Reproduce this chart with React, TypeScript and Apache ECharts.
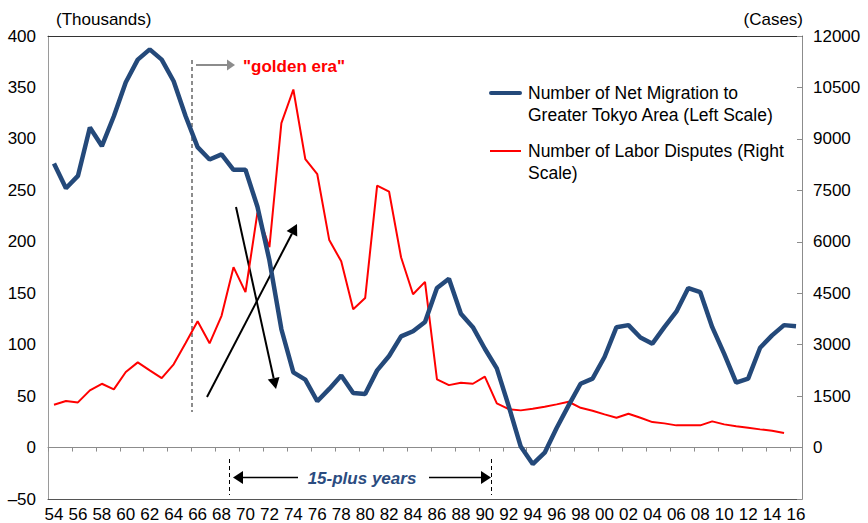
import React, { useEffect, useRef } from 'react';
import * as echarts from 'echarts';

const years = [
  '54', '55', '56', '57', '58', '59', '60', '61', '62', '63', '64', '65', '66', '67', '68', '69',
  '70', '71', '72', '73', '74', '75', '76', '77', '78', '79', '80', '81', '82', '83', '84', '85',
  '86', '87', '88', '89', '90', '91', '92', '93', '94', '95', '96', '97', '98', '99', '00', '01',
  '02', '03', '04', '05', '06', '07', '08', '09', '10', '11', '12', '13', '14', '15', '16',
];

// Net migration to Greater Tokyo Area (thousands, left scale)
const netMigration = [
  276, 252, 264, 311, 293, 322, 355, 377, 387, 377, 356, 322, 292, 280, 285, 270,
  270, 234, 182, 115, 73, 66, 45, 57, 70, 53, 52, 75, 89, 108, 113, 122,
  155, 164, 130, 117, 96, 77, 40, 1, -16, -5, 19, 41, 62, 67, 88, 117,
  119, 107, 101, 117, 132, 155, 151, 117, 91, 63, 67, 97, 109, 119, 118,
];

// Number of labor disputes (cases, right scale)
const laborDisputes = [
  1250, 1356, 1317, 1668, 1860, 1698, 2202, 2484, 2250, 2025, 2426, 3050, 3680, 3040, 3840, 5260,
  4530, 6850, 5840, 9460, 10440, 8410, 7970, 6050, 5430, 4030, 4360, 7640, 7460, 5550, 4470, 4830,
  1990, 1820, 1890, 1860, 2070, 1290, 1120, 1084, 1131, 1190, 1259, 1336, 1160, 1073, 967, 869,
  986, 869, 743, 705, 647, 647, 647, 763, 676, 618, 578, 530, 490, 423, null,
];

const leftAxisRange = [-50, 400];
const leftAxisStep = 50;
const rightAxisRange = [-1500, 12000];
const rightAxisStep = 1500;

const seriesNames = [
  'Number of Net Migration to\nGreater Tokyo Area (Left Scale)',
  'Number of Labor Disputes (Right\nScale)',
];

const FONT = '"Liberation Sans", Arial, Helvetica, sans-serif';
const BLUE = '#24497a';
const RED = '#ff0000';

function arrowHead(tipX: number, tipY: number, fromX: number, fromY: number, len: number, half: number) {
  const dx = tipX - fromX;
  const dy = tipY - fromY;
  const d = Math.sqrt(dx * dx + dy * dy);
  const ux = dx / d;
  const uy = dy / d;
  const bx = tipX - ux * len;
  const by = tipY - uy * len;
  return {
    base: [bx, by],
    points: [
      [tipX, tipY],
      [bx - uy * half, by + ux * half],
      [bx + uy * half, by - ux * half],
    ],
  };
}

function arrow(x1: number, y1: number, x2: number, y2: number, color: string, width: number, len: number, half: number) {
  const h = arrowHead(x2, y2, x1, y1, len, half);
  return [
    { type: 'line', shape: { x1, y1, x2: h.base[0], y2: h.base[1] }, style: { stroke: color, lineWidth: width } },
    { type: 'polygon', shape: { points: h.points }, style: { fill: color } },
  ];
}

export default function App() {
  const ref = useRef<HTMLDivElement>(null);

  useEffect(() => {
    if (!ref.current) return;
    const chart = echarts.init(ref.current, undefined, { renderer: 'svg' });

    const axisText = { color: '#000', fontSize: 17, fontFamily: FONT };

    const graphic: any[] = [
      { type: 'text', x: 56, y: 19, style: { text: '(Thousands)', fontSize: 17, fontFamily: FONT, fill: '#000', align: 'left', verticalAlign: 'middle' } },
      { type: 'text', x: 803, y: 19, style: { text: '(Cases)', fontSize: 17, fontFamily: FONT, fill: '#000', align: 'right', verticalAlign: 'middle' } },
      // legend
      { type: 'line', shape: { x1: 491, y1: 93, x2: 520, y2: 93 }, style: { stroke: BLUE, lineWidth: 4, lineCap: 'round' } },
      { type: 'text', x: 528, y: 82, style: { text: seriesNames[0], fontSize: 17.5, lineHeight: 22, fontFamily: FONT, fill: '#000', align: 'left', verticalAlign: 'top' } },
      { type: 'line', shape: { x1: 490, y1: 151, x2: 521, y2: 151 }, style: { stroke: RED, lineWidth: 2 } },
      { type: 'text', x: 528, y: 140, style: { text: seriesNames[1], fontSize: 17.5, lineHeight: 22, fontFamily: FONT, fill: '#000', align: 'left', verticalAlign: 'top' } },
      // golden era
      { type: 'line', shape: { x1: 192, y1: 60, x2: 192, y2: 412 }, style: { stroke: '#8c8c8c', lineWidth: 2, lineDash: [4, 3] } },
      ...arrow(196, 65, 235, 65, '#8c8c8c', 2, 8, 5.5),
      { type: 'text', x: 243, y: 66, style: { text: '"golden era"', fontSize: 17, fontWeight: 'bold', fontFamily: FONT, fill: RED, align: 'left', verticalAlign: 'middle' } },
      // black arrows
      ...arrow(207, 397, 297, 224, '#000', 2, 11, 6),
      ...arrow(236, 207, 276, 389, '#000', 2, 11, 6),
      // 15-plus years
      { type: 'line', shape: { x1: 229.5, y1: 459, x2: 229.5, y2: 495 }, style: { stroke: '#000', lineWidth: 1, lineDash: [4, 3] } },
      { type: 'line', shape: { x1: 491.5, y1: 459, x2: 491.5, y2: 495 }, style: { stroke: '#000', lineWidth: 1, lineDash: [4, 3] } },
      ...arrow(298, 477.5, 233, 477.5, '#000', 1.5, 10, 6.5),
      ...arrow(429, 477.5, 491, 477.5, '#000', 1.5, 10, 6.5),
      { type: 'text', x: 362, y: 478, style: { text: '15-plus years', fontSize: 17, fontWeight: 'bold', fontStyle: 'italic', fontFamily: FONT, fill: '#2b4c80', align: 'center', verticalAlign: 'middle' } },
    ];

    chart.setOption({
      animation: false,
      backgroundColor: '#fff',
      grid: { left: 48, right: 66, top: 36, bottom: 24, containLabel: false, outerBoundsMode: 'none' },
      xAxis: [
        {
          type: 'category', data: years, position: 'bottom', boundaryGap: true,
          axisLine: { onZero: false, lineStyle: { color: '#555', width: 1 } },
          axisTick: { show: false },
          axisLabel: { ...axisText, interval: 1, margin: 7 },
          splitLine: { show: false },
        },
        {
          type: 'category', data: years, position: 'bottom', boundaryGap: true,
          axisLine: { onZero: true, onZeroAxisIndex: 0, lineStyle: { color: '#8c8c8c', width: 1 } },
          axisTick: { show: true, interval: 1, length: 4, lineStyle: { color: '#8c8c8c' } },
          axisLabel: { show: false },
          splitLine: { show: false },
        },
        {
          type: 'category', data: years, position: 'top', boundaryGap: true,
          axisLine: { onZero: false, lineStyle: { color: '#333', width: 1 } },
          axisTick: { show: false },
          axisLabel: { show: false },
          splitLine: { show: false },
        },
      ],
      yAxis: [
        {
          type: 'value', position: 'left', min: leftAxisRange[0], max: leftAxisRange[1], interval: leftAxisStep,
          axisLine: { show: true, lineStyle: { color: '#9a9a9a' } },
          axisTick: { show: false },
          splitLine: { show: false },
          axisLabel: { ...axisText, margin: 12, formatter: (v: number) => (v < 0 ? '\u2013' + Math.abs(v) : String(v)) },
        },
        {
          type: 'value', position: 'right', min: rightAxisRange[0], max: rightAxisRange[1], interval: rightAxisStep,
          axisLine: { show: true, lineStyle: { color: '#8c8c8c' } },
          axisTick: { show: true, inside: true, length: 5, lineStyle: { color: '#8c8c8c' } },
          splitLine: { show: false },
          axisLabel: { ...axisText, margin: 11, formatter: (v: number) => (v < 0 ? '' : String(v)) },
        },
      ],
      series: [
        {
          name: seriesNames[0], type: 'line', xAxisIndex: 0, yAxisIndex: 0, data: netMigration,
          symbol: 'none', lineStyle: { color: BLUE, width: 4.5 }, itemStyle: { color: BLUE }, z: 3,
        },
        {
          name: seriesNames[1], type: 'line', xAxisIndex: 0, yAxisIndex: 1, data: laborDisputes,
          symbol: 'none', lineStyle: { color: RED, width: 2 }, itemStyle: { color: RED }, z: 2,
        },
      ],
      graphic,
    });

    return () => chart.dispose();
  }, []);

  return <div ref={ref} style={{ position: 'fixed', left: 0, top: 0, width: 868, height: 523 }} />;
}
